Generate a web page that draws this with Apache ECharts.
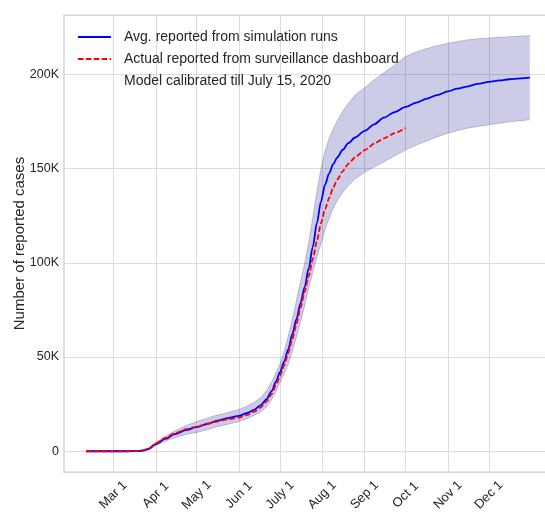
<!DOCTYPE html>
<html><head><meta charset="utf-8">
<script src="https://cdn.jsdelivr.net/npm/echarts@6/dist/echarts.min.js"></script>
<style>html,body{margin:0;padding:0;background:#fff}#chart{width:545px;height:515px}</style>
</head><body><div id="chart"></div>
<script>
// Day of year 2020 (Jan 1 = 0)
const days = [40, 50, 60, 70, 78, 82, 86, 91, 98, 105, 113, 121, 129, 136, 144, 152, 158, 163, 168, 172, 176, 179, 182, 185, 188, 191, 194, 197, 200, 203, 206, 209, 212, 215, 218, 221, 224, 228, 232, 237, 244, 251, 258, 266, 274, 282, 289, 297, 305, 312, 319, 327, 335, 343, 350, 358, 365];
const avgReported = [0, 0, 0, 0, 100, 400, 1300, 3800, 6600, 9100, 11200, 12800, 14600, 16200, 17600, 18800, 20300, 22000, 24500, 27500, 32000, 37000, 42000, 47500, 54000, 62000, 70000, 78500, 87000, 97000, 108500, 121000, 132500, 141500, 147500, 152500, 156000, 160000, 163500, 166500, 170000, 173500, 177000, 180000, 182700, 185000, 187000, 189000, 191000, 192400, 193500, 195000, 196000, 196800, 197400, 197900, 198300];
const bandUpper = [300, 300, 300, 300, 400, 800, 1800, 4600, 7900, 10900, 13600, 15800, 17700, 19200, 20600, 22200, 24000, 26000, 28500, 32000, 37000, 41500, 46500, 53000, 61000, 70000, 80000, 90000, 99500, 111000, 124000, 138000, 150000, 159500, 166000, 171000, 175500, 180500, 184500, 189000, 193000, 197200, 200800, 205000, 209500, 212000, 213600, 215200, 216500, 217500, 218300, 218900, 219300, 219700, 220000, 220300, 220500];
const bandLower = [0, 0, 0, 0, 0, 100, 800, 3000, 5300, 7300, 8900, 10000, 11500, 13000, 14400, 15800, 17300, 19000, 21000, 23500, 27500, 31500, 36500, 41000, 46000, 53000, 60500, 68500, 77000, 86500, 95000, 103000, 110000, 117500, 123500, 129000, 133000, 137500, 141000, 144500, 148000, 150800, 153500, 156800, 159800, 162500, 164500, 166800, 168800, 170200, 171400, 172400, 173200, 174100, 174800, 175400, 175900];
const actualDays = [40, 50, 60, 70, 78, 82, 86, 91, 98, 105, 113, 121, 129, 136, 144, 152, 158, 163, 168, 172, 176, 179, 182, 185, 188, 191, 194, 197, 200, 203, 206, 209, 212, 215, 218, 221, 224, 228, 232, 237, 244, 251, 258, 266, 274];
const actualReported = [0, 0, 0, 0, 100, 500, 1600, 4200, 7100, 9600, 11700, 13100, 14600, 15800, 16900, 17900, 19300, 21000, 23300, 26300, 30500, 35000, 40000, 45500, 52000, 59500, 67500, 76000, 84500, 93000, 102000, 111500, 121000, 128500, 134500, 140000, 144200, 148700, 152500, 156000, 159800, 163200, 166000, 168800, 171500];

const xTickDays = [60, 91, 121, 152, 182, 213, 244, 274, 305, 335];
const xTickLabels = ['Mar 1', 'Apr 1', 'May 1', 'Jun 1', 'July 1', 'Aug 1', 'Sep 1', 'Oct 1', 'Nov 1', 'Dec 1'];
const yTickValues = [0, 50000, 100000, 150000, 200000];
const yTickLabels = ['0', '50K', '100K', '150K', '200K'];
const legendNames = ['Avg. reported from simulation runs', 'Actual reported from surveillance dashboard', 'Model calibrated till July 15, 2020'];
const yAxisTitle = 'Number of reported cases';

const FONT = "'Liberation Sans', Arial, sans-serif";
const avgData = days.map((d, i) => [d, avgReported[i]]);
// band data given as [value, day] so that the stack is computed on the y dimension
const lowerData = days.map((d, i) => [bandLower[i], d]);
const rangeData = days.map((d, i) => [bandUpper[i] - bandLower[i], d]);
const actualData = actualDays.map((d, i) => [d, actualReported[i]]);

const chart = echarts.init(document.getElementById('chart'), null, {renderer: 'canvas'});
chart.setOption({
  animation: false,
  backgroundColor: '#fff',
  grid: {
    left: 64, right: -7, top: 15, bottom: 43,
    show: true, borderColor: '#cccccc', borderWidth: 1.25, backgroundColor: 'transparent',
    outerBoundsMode: 'none', containLabel: false
  },
  legend: {
    orient: 'vertical', left: 77, top: 30, itemWidth: 33, itemHeight: 14, itemGap: 8,
    selectedMode: false, padding: 0,
    data: legendNames,
    itemStyle: {opacity: 0},
    textStyle: {fontFamily: FONT, fontSize: 14, color: '#262626', padding: [0, 0, 0, 8]}
  },
  xAxis: {
    type: 'value', min: 23.8, max: 381.2,
    axisLine: {show: false}, axisTick: {show: false, customValues: xTickDays},
    splitLine: {show: true, lineStyle: {color: '#dcdcdc', width: 1}},
    axisLabel: {
      customValues: xTickDays, rotate: 45, align: 'center', verticalAlign: 'middle', margin: 23,
      fontFamily: FONT, fontSize: 13, color: '#262626',
      formatter: v => xTickLabels[xTickDays.indexOf(+v)]
    }
  },
  yAxis: {
    type: 'value', min: -11000, max: 231500,
    name: yAxisTitle, nameLocation: 'middle', nameRotate: 90, nameGap: 37, nameMoveOverlap: false,
    nameTextStyle: {fontFamily: FONT, fontSize: 15, color: '#262626'},
    axisLine: {show: false}, axisTick: {show: false, customValues: yTickValues},
    splitLine: {show: true, lineStyle: {color: '#dcdcdc', width: 1}},
    axisLabel: {
      customValues: yTickValues, margin: 5, fontFamily: FONT, fontSize: 12.5, color: '#262626',
      formatter: v => yTickLabels[yTickValues.indexOf(+v)]
    }
  },
  series: [
    {name: 'bandLower', type: 'line', data: lowerData, encode: {x: 1, y: 0}, stack: 'band', stackStrategy: 'all',
     symbol: 'none', lineStyle: {color: 'rgba(0,0,128,0.2)', width: 1}, silent: true, z: 1},
    {name: 'bandRange', type: 'line', data: rangeData, encode: {x: 1, y: 0}, stack: 'band', stackStrategy: 'all',
     symbol: 'none', lineStyle: {color: 'rgba(0,0,128,0.2)', width: 1},
     areaStyle: {color: 'rgba(0,0,128,0.2)', opacity: 1}, silent: true, z: 1},
    {name: legendNames[0], type: 'line', data: avgData, symbol: 'none', color: '#0000ff',
     smooth: 0.3, smoothMonotone: 'x',
     lineStyle: {color: '#0000ff', width: 1.8}, z: 3},
    {name: legendNames[1], type: 'line', data: actualData, symbol: 'none', color: '#ff0000',
     smooth: 0.2, smoothMonotone: 'x',
     lineStyle: {color: '#ff0000', width: 1.8, type: [5.5, 2.4]}, z: 4},
    {name: legendNames[2], type: 'line', data: [], symbol: 'none', color: 'rgba(0,0,0,0)',
     lineStyle: {color: 'rgba(0,0,0,0)', width: 0}}
  ]
});
</script></body></html>
